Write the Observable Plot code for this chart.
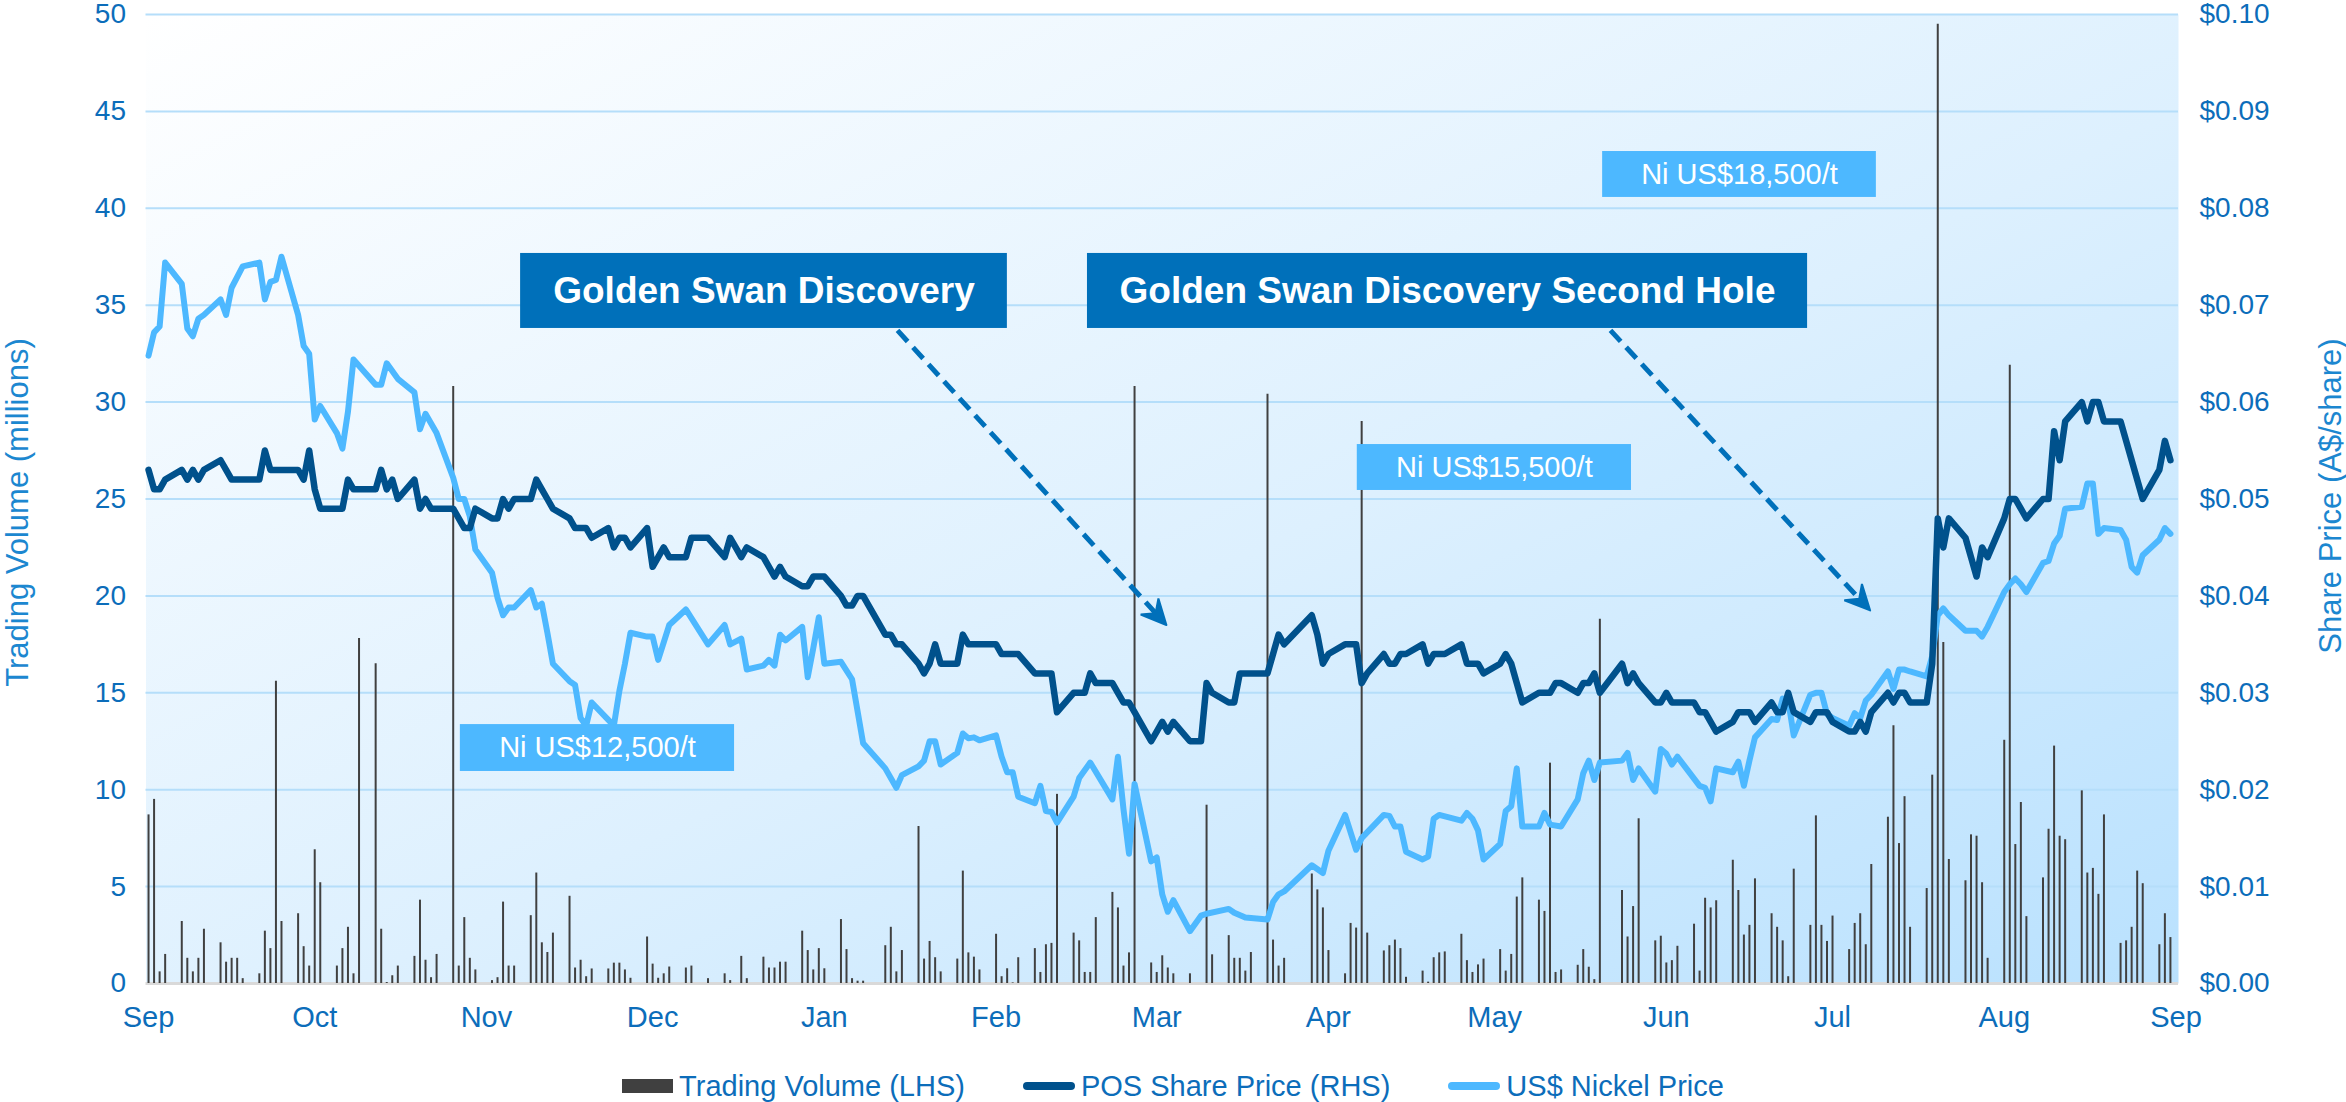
<!DOCTYPE html>
<html>
<head>
<meta charset="utf-8">
<script src="https://cdn.jsdelivr.net/npm/d3@7"></script>
<script src="https://cdn.jsdelivr.net/npm/@observablehq/plot@0.6"></script>
<style>
  html, body { margin: 0; padding: 0; background: #ffffff; }
  body { width: 2346px; height: 1102px; overflow: hidden; font-family: "Liberation Sans", Arial, sans-serif; }
  #chart svg { display: block; }
  #legend { display: flex; justify-content: center; align-items: center; height: 38px; padding-top: 3px;
            font-size: 29px; color: #0C6DBA; white-space: nowrap; }
  #legend .item { display: flex; align-items: center; margin: 0 29px; }
  #legend .sw { display: inline-block; margin-right: 6px; }
  #legend .sw.bar { width: 51px; height: 14px; }
  #legend .sw.line { width: 52px; height: 8px; border-radius: 4px; }
</style>
</head>
<body>
<div id="chart"></div>
<div id="legend"></div>
<script>
// ---------------- DATA ----------------
// Daily trading volume (millions of shares), per month: [day, volume]
const volume = [
  ["2019-09", [[3,8.7],[4,9.5],[5,0.6],[6,1.5],[9,3.2],[10,1.3],[11,0.6],[12,1.3],[13,2.8],[16,2.1],[17,1.1],[18,1.3],[19,1.3],[20,0.25],[23,0.5],[24,2.7],[25,1.8],[26,15.6],[27,3.2],[30,3.6]]],
  ["2019-10", [[1,1.9],[2,0.9],[3,6.9],[4,5.2],[7,0.9],[8,1.8],[9,2.9],[10,0.5],[11,17.8],[14,16.5],[15,2.8],[16,0.05],[17,0.4],[18,0.9],[21,1.4],[22,4.3],[23,1.2],[24,0.3],[25,1.5],[28,30.8],[29,0.9],[30,3.4],[31,1.3]]],
  ["2019-11", [[1,0.7],[4,0.15],[5,0.3],[6,4.2],[7,0.9],[8,0.9],[11,3.5],[12,5.7],[13,2.1],[14,1.6],[15,2.6],[18,4.5],[19,0.8],[20,1.2],[21,0.35],[22,0.75],[25,0.75],[26,1.05],[27,1.05],[28,0.7],[29,0.27]]],
  ["2019-12", [[2,2.4],[3,1.0],[4,0.27],[5,0.5],[6,0.85],[9,0.8],[10,0.9],[13,0.25],[16,0.5],[17,0.15],[19,1.4],[20,0.25],[23,1.36],[24,0.8],[25,0.8],[26,1.1],[27,1.1],[30,2.7],[31,1.7]]],
  ["2020-01", [[1,0.7],[2,1.8],[3,0.76],[6,3.3],[7,1.75],[8,0.25],[9,0.12],[10,0.12],[14,1.95],[15,2.9],[16,0.6],[17,1.7],[20,8.1],[21,1.26],[22,2.17],[23,1.33],[24,0.6],[27,1.26],[28,5.8],[29,1.58],[30,1.36],[31,0.7]]],
  ["2020-02", [[3,2.54],[4,0.35],[5,0.76],[6,0.03],[7,1.33],[10,1.8],[11,0.57],[12,2.0],[13,2.07],[14,9.76],[17,2.6],[18,2.2],[19,0.57],[20,0.57],[21,3.4],[24,4.7],[25,3.9],[26,0.9],[27,1.58],[28,30.8]]],
  ["2020-03", [[2,1.06],[3,0.57],[4,1.43],[5,0.8],[6,0.5],[9,0.5],[12,9.2],[13,1.48],[16,2.47],[17,1.3],[18,1.3],[19,0.64],[20,1.6],[23,30.4],[24,2.24],[25,0.9],[26,1.3],[31,5.65]]],
  ["2020-04", [[1,4.83],[2,3.9],[3,1.7],[6,0.5],[7,3.1],[8,2.86],[9,29.0],[10,2.6],[13,1.68],[14,1.95],[15,2.24],[16,1.8],[17,0.32],[20,0.64],[21,0.07],[22,1.33],[23,1.58],[24,1.63],[27,2.54],[28,1.18],[29,0.57],[30,0.96]]],
  ["2020-05", [[1,1.26],[4,1.75],[5,0.64],[6,1.5],[7,4.46],[8,5.45],[11,4.3],[12,3.72],[13,11.37],[14,0.57],[15,0.7],[18,0.94],[19,1.75],[20,0.84],[21,0.2],[22,18.8],[26,4.8],[27,2.4],[28,3.97],[29,8.5]]],
  ["2020-06", [[1,2.2],[2,2.44],[3,1.06],[4,1.18],[5,1.92],[8,3.06],[9,0.64],[10,4.4],[11,3.9],[12,4.27],[15,6.36],[16,4.8],[17,2.5],[18,3.0],[19,5.4],[22,3.6],[23,2.9],[24,2.2],[25,0.35],[26,5.9],[29,3.0],[30,8.65]]],
  ["2020-07", [[1,3.0],[2,2.17],[3,3.48],[6,1.75],[7,3.1],[8,3.6],[9,2.0],[10,6.14],[13,8.58],[14,13.3],[15,7.22],[16,9.64],[17,2.9],[20,4.9],[21,10.75],[22,49.5],[23,17.6],[24,6.4],[27,5.3],[28,7.67],[29,7.6],[30,5.2],[31,1.3]]],
  ["2020-08", [[3,12.55],[4,31.9],[5,7.17],[6,9.34],[7,3.45],[10,5.45],[11,7.96],[12,12.25],[13,7.6],[14,7.42],[17,9.94],[18,5.7],[19,5.94],[20,4.6],[21,8.7],[24,2.07],[25,2.2],[26,2.9],[27,5.8],[28,5.15],[31,2.0]]],
  ["2020-09", [[1,3.6],[2,2.37]]]
];

// POS share price (A$/share), per month: [day, price]
const sharePrice = [
  ["2019-09", [[3,.053],[4,.051],[5,.051],[6,.052],[9,.053],[10,.052],[11,.053],[12,.052],[13,.053],[16,.054],[17,.053],[18,.052],[23,.052],[24,.055],[25,.053],[30,.053]]],
  ["2019-10", [[1,.052],[2,.055],[3,.051],[4,.049],[8,.049],[9,.052],[10,.051],[14,.051],[15,.053],[16,.051],[17,.052],[18,.050],[21,.052],[22,.049],[23,.050],[24,.049],[28,.049],[29,.048],[30,.047],[31,.047]]],
  ["2019-11", [[1,.049],[4,.048],[5,.048],[6,.050],[7,.049],[8,.050],[11,.050],[12,.052],[13,.051],[14,.050],[15,.049],[18,.048],[19,.047],[21,.047],[22,.046],[25,.047],[26,.045],[27,.046],[28,.046],[29,.045]]],
  ["2019-12", [[2,.047],[3,.043],[4,.044],[5,.045],[6,.044],[9,.044],[10,.046],[13,.046],[16,.044],[17,.046],[18,.045],[19,.044],[20,.045],[23,.044],[24,.043],[25,.042],[26,.043],[27,.042],[30,.041],[31,.041]]],
  ["2020-01", [[1,.042],[2,.042],[3,.042],[6,.040],[7,.039],[8,.039],[9,.040],[10,.040],[14,.036],[15,.036],[16,.035],[17,.035],[20,.033],[21,.032],[22,.033],[23,.035],[24,.033],[27,.033],[28,.036],[29,.035],[31,.035]]],
  ["2020-02", [[3,.035],[4,.034],[7,.034],[10,.032],[13,.032],[14,.028],[17,.030],[19,.030],[20,.032],[21,.031],[24,.031],[25,.030],[26,.029],[27,.029],[28,.028]]],
  ["2020-03", [[2,.025],[3,.026],[4,.027],[5,.026],[6,.027],[9,.025],[10,.025],[11,.025],[12,.031],[13,.030],[16,.029],[17,.029],[18,.032],[19,.032],[20,.032],[23,.032],[24,.034],[25,.036],[26,.035],[31,.038]]],
  ["2020-04", [[1,.036],[2,.033],[3,.034],[6,.035],[7,.035],[8,.035],[9,.031],[10,.032],[13,.034],[14,.033],[15,.033],[16,.034],[17,.034],[20,.035],[21,.033],[22,.034],[23,.034],[24,.034],[27,.035],[28,.033],[29,.033],[30,.033]]],
  ["2020-05", [[1,.032],[4,.033],[5,.034],[6,.033],[7,.031],[8,.029],[11,.030],[12,.030],[13,.030],[14,.031],[15,.031],[18,.030],[19,.031],[20,.031],[21,.032],[22,.030],[26,.033],[27,.031],[28,.032],[29,.031]]],
  ["2020-06", [[1,.029],[2,.029],[3,.030],[4,.029],[5,.029],[8,.029],[9,.028],[10,.028],[11,.027],[12,.026],[15,.027],[16,.028],[17,.028],[18,.028],[19,.027],[22,.029],[23,.028],[24,.028],[25,.030],[26,.028],[29,.027],[30,.028]]],
  ["2020-07", [[1,.028],[2,.028],[3,.027],[6,.026],[7,.026],[8,.027],[9,.026],[10,.028],[13,.030],[14,.029],[15,.030],[16,.030],[17,.029],[20,.029],[21,.033],[22,.048],[23,.045],[24,.048],[27,.046],[28,.044],[29,.042],[30,.045],[31,.044]]],
  ["2020-08", [[3,.048],[4,.050],[5,.050],[6,.049],[7,.048],[10,.050],[11,.050],[12,.057],[13,.054],[14,.058],[17,.060],[18,.058],[19,.060],[20,.060],[21,.058],[24,.058],[28,.050],[31,.053]]],
  ["2020-09", [[1,.056],[2,.054]]]
];

// US$ nickel price, drawn on the chart's left-axis units (no own axis): [day, value]
const nickelPrice = [
  ["2019-09", [[3,32.4],[4,33.6],[5,33.9],[6,37.2],[9,36.1],[10,33.8],[11,33.4],[12,34.3],[13,34.5],[16,35.3],[17,34.5],[18,35.9],[20,37.0],[23,37.2],[24,35.3],[25,36.2],[26,36.3],[27,37.5],[30,34.5]]],
  ["2019-10", [[1,32.9],[2,32.5],[3,29.1],[4,29.8],[7,28.4],[8,27.6],[9,29.5],[10,32.2],[14,30.9],[15,30.9],[16,32.0],[18,31.2],[21,30.5],[22,28.6],[23,29.4],[25,28.4],[28,26.1],[29,25.0],[30,25.0],[31,24.1]]],
  ["2019-11", [[1,22.4],[4,21.2],[5,19.9],[6,19.0],[7,19.4],[8,19.4],[11,20.3],[12,19.4],[13,19.6],[14,18.1],[15,16.5],[18,15.6],[19,15.4],[20,13.7],[21,13.3],[22,14.5],[25,13.6],[26,13.3],[27,15.1],[28,16.5],[29,18.1]]],
  ["2019-12", [[2,17.9],[3,17.9],[4,16.7],[6,18.5],[9,19.3],[13,17.5],[16,18.5],[17,17.5],[19,17.8],[20,16.2],[23,16.4],[24,16.7],[25,16.4],[26,18.0],[27,17.7],[30,18.4],[31,15.8]]],
  ["2020-01", [[1,17.3],[2,18.9],[3,16.5],[6,16.6],[8,15.7],[10,12.4],[14,11.1],[16,10.1],[17,10.75],[20,11.2],[21,11.5],[22,12.5],[23,12.5],[24,11.3],[27,11.9],[28,12.9],[29,12.65],[30,12.7],[31,12.55]]],
  ["2020-02", [[3,12.8],[4,11.7],[5,10.9],[6,10.9],[7,9.64],[10,9.3],[11,10.2],[12,8.9],[13,8.85],[14,8.3],[17,9.64],[18,10.6],[20,11.4],[24,9.5],[25,11.7],[26,9.0],[27,6.7],[28,10.3]]],
  ["2020-03", [[2,6.3],[3,6.5],[4,4.6],[5,3.7],[6,4.3],[9,2.7],[11,3.5],[12,3.6],[16,3.85],[17,3.65],[19,3.4],[23,3.3],[24,4.2],[25,4.6],[26,4.75],[31,6.1]]],
  ["2020-04", [[2,5.7],[3,6.85],[6,8.7],[8,6.9],[9,7.5],[13,8.7],[14,8.65],[15,8.1],[16,8.1],[17,6.8],[20,6.4],[21,6.55],[22,8.5],[23,8.7],[27,8.4],[28,8.8],[29,8.5],[30,7.9]]],
  ["2020-05", [[1,6.4],[4,7.2],[5,8.9],[6,9.15],[7,11.1],[8,8.1],[11,8.1],[12,8.8],[13,8.2],[15,8.1],[18,9.5],[19,10.85],[20,11.5],[21,10.5],[22,11.4],[26,11.5],[27,11.9],[28,10.5],[29,11.1]]],
  ["2020-06", [[1,9.9],[2,12.1],[3,11.85],[4,11.3],[5,11.7],[9,10.2],[10,10.1],[11,9.4],[12,11.1],[15,10.9],[16,11.45],[17,10.2],[18,11.5],[19,12.7],[22,13.65],[23,13.6],[24,14.7],[25,14.6],[26,12.8],[29,14.9],[30,15.0]]],
  ["2020-07", [[1,15.0],[2,13.9],[3,13.7],[6,13.3],[7,13.95],[8,13.7],[9,14.6],[10,14.9],[13,16.1],[14,15.2],[15,16.2],[16,16.2],[17,16.1],[20,15.85],[21,16.9],[22,19.0],[23,19.35],[24,19.0],[27,18.2],[29,18.2],[30,17.9],[31,18.4]]],
  ["2020-08", [[3,20.2],[4,20.6],[5,20.9],[6,20.6],[7,20.2],[10,21.7],[11,21.8],[12,22.7],[13,23.1],[14,24.5],[17,24.6],[18,25.8],[19,25.8],[20,23.2],[21,23.5],[24,23.4],[25,22.9],[26,21.5],[27,21.2],[28,22.1],[31,22.9]]],
  ["2020-09", [[1,23.5],[2,23.2]]]
];

// x-axis month ticks (axis runs from first to last trading date, ticks on the 3rd)
const monthTicks = ["2019-09-03","2019-10-03","2019-11-03","2019-12-03","2020-01-03","2020-02-03","2020-03-03",
                    "2020-04-03","2020-05-03","2020-06-03","2020-07-03","2020-08-03","2020-09-03"];
const leftTicks = [0, 5, 10, 15, 20, 25, 30, 35, 40, 45, 50];
const legendItems = [
  {label: "Trading Volume (LHS)", kind: "bar", color: "#404040"},
  {label: "POS Share Price (RHS)", kind: "line", color: "#00518C"},
  {label: "US$ Nickel Price", kind: "line", color: "#4DB8FF"}
];
// Annotation boxes and arrows (anchored in chart coordinates)
const annotationBoxes = [
  {text: "Golden Swan Discovery", kind: "event", x1: "2019-11-09T04:00Z", x2: "2020-02-05T01:00Z", y1: 33.8, y2: 37.67},
  {text: "Golden Swan Discovery Second Hole", kind: "event", x1: "2020-02-19T12:00Z", x2: "2020-06-28T12:00Z", y1: 33.8, y2: 37.67},
  {text: "Ni US$12,500/t", kind: "nickel", x1: "2019-10-29T07:00Z", x2: "2019-12-17T19:00Z", y1: 10.94, y2: 13.36},
  {text: "Ni US$15,500/t", kind: "nickel", x1: "2020-04-08T05:00Z", x2: "2020-05-27T17:00Z", y1: 25.44, y2: 27.81},
  {text: "Ni US$18,500/t", kind: "nickel", x1: "2020-05-22T12:00Z", x2: "2020-07-10T22:00Z", y1: 40.56, y2: 42.93}
];
const annotationArrows = [
  {x1: "2020-01-16T05:00Z", y1: 33.7, x2: "2020-03-04T18:00Z", y2: 18.5},
  {x1: "2020-05-23T22:00Z", y1: 33.7, x2: "2020-07-09T19:00Z", y2: 19.25}
];

// ---------------- BUILD ----------------
const C = {
  bar: "#404040", price: "#00518C", nickel: "#4DB8FF", event: "#0070BA",
  grid: "#B5DEFA", base: "#D9D9D9", tick: "#0C6DBA", title: "#1C87D0"
};
const parseDay = (ym, d) => new Date(`${ym}-${String(d).padStart(2, "0")}T00:00:00Z`);
const flatten = (table) => table.flatMap(([ym, rows]) => rows.map(([d, v]) => ({date: parseDay(ym, d), value: v})));
const volData = flatten(volume);
const priceData = flatten(sharePrice);
const nickelData = flatten(nickelPrice);
const PRICE_TO_LEFT = 500; // $0.10 on the right axis = 50 on the left axis

const boxes = annotationBoxes.map(b => ({...b, x1: new Date(b.x1), x2: new Date(b.x2)}))
  .map(b => ({...b, xm: new Date((+b.x1 + +b.x2) / 2), ym: (b.y1 + b.y2) / 2}));
const arrows = annotationArrows.map(a => ({...a, x1: new Date(a.x1), x2: new Date(a.x2)}));

const W = 2346, H = 1064;
const M = {top: 14, right: 168, bottom: 81, left: 145.5};
const xDomain = [new Date("2019-09-02T13:00:00Z"), new Date("2020-09-03T11:00:00Z")];
const plotW = W - M.left - M.right, plotH = H - M.top - M.bottom;
const span = xDomain[1] - xDomain[0];
const px = d => M.left + (d - xDomain[0]) / span * plotW;
const py = v => M.top + (50 - v) / 50 * plotH;
const invX = X => new Date(+xDomain[0] + (X - M.left) / plotW * span);
const invY = Y => 50 - (Y - M.top) / plotH * 50;

// dashed shaft + filled arrowhead, geometry worked out in screen space
const HEAD = {len: 25, half: 12, notch: 16};
const arrowMarks = arrows.flatMap(a => {
  const X1 = px(a.x1), Y1 = py(a.y1), X2 = px(a.x2), Y2 = py(a.y2);
  const L = Math.hypot(X2 - X1, Y2 - Y1), ux = (X2 - X1) / L, uy = (Y2 - Y1) / L, nx = -uy, ny = ux;
  const shaftEnd = {x: invX(X2 - HEAD.notch * ux), y: invY(Y2 - HEAD.notch * uy)};
  const head = [
    [X2, Y2],
    [X2 - HEAD.len * ux + HEAD.half * nx, Y2 - HEAD.len * uy + HEAD.half * ny],
    [X2 - HEAD.notch * ux, Y2 - HEAD.notch * uy],
    [X2 - HEAD.len * ux - HEAD.half * nx, Y2 - HEAD.len * uy - HEAD.half * ny],
    [X2, Y2]
  ].map(([X, Y]) => ({x: invX(X), y: invY(Y)}));
  return [
    Plot.link([{x1: a.x1, y1: a.y1, x2: shaftEnd.x, y2: shaftEnd.y}],
              {x1: "x1", y1: "y1", x2: "x2", y2: "y2", stroke: C.event, strokeWidth: 5,
               strokeDasharray: "15,8", strokeLinecap: "butt"}),
    Plot.line(head, {x: "x", y: "y", fill: C.event, stroke: C.event, strokeWidth: 2, strokeLinejoin: "miter"})
  ];
});

const font = '"Liberation Sans", Arial, sans-serif';
const chart = Plot.plot({
  width: W, height: H,
  marginTop: M.top, marginRight: M.right, marginBottom: M.bottom, marginLeft: M.left,
  style: {fontFamily: font, background: "transparent", overflow: "visible"},
  x: {type: "utc", domain: xDomain, axis: null},
  y: {domain: [0, 50], axis: null},
  marks: [
    Plot.frame({fill: "url(#plotBg)", stroke: "none"}),
    Plot.gridY(leftTicks.filter(d => d > 0), {stroke: C.grid, strokeWidth: 2, strokeOpacity: 1}),
    Plot.ruleY([0], {stroke: C.base, strokeWidth: 3}),
    Plot.ruleX(volData, {x: "date", y1: 0, y2: "value", stroke: C.bar, strokeWidth: 2}),
    Plot.line(nickelData, {x: "date", y: "value", stroke: C.nickel, strokeWidth: 6, strokeLinejoin: "round"}),
    Plot.line(priceData, {x: "date", y: d => d.value * PRICE_TO_LEFT, stroke: C.price, strokeWidth: 6.5, strokeLinejoin: "round"}),
    Plot.rect(boxes.filter(d => d.kind === "nickel"), {x1: "x1", x2: "x2", y1: "y1", y2: "y2", fill: C.nickel}),
    Plot.text(boxes.filter(d => d.kind === "nickel"), {x: "xm", y: "ym", text: "text", fill: "white", fontSize: 29}),
    Plot.rect(boxes.filter(d => d.kind === "event"), {x1: "x1", x2: "x2", y1: "y1", y2: "y2", fill: C.event}),
    Plot.text(boxes.filter(d => d.kind === "event"), {x: "xm", y: "ym", text: "text", fill: "white", fontSize: 37, fontWeight: "bold"}),
    ...arrowMarks,
    Plot.axisY({anchor: "left", ticks: leftTicks, tickSize: 0, tickPadding: 20, fontSize: 28, fill: C.tick, label: null}),
    Plot.axisY({anchor: "right", ticks: leftTicks, tickSize: 0, tickPadding: 21, fontSize: 28, fill: C.tick, label: null,
                tickFormat: d => "$" + (d / PRICE_TO_LEFT).toFixed(2)}),
    Plot.axisX({ticks: monthTicks.map(d => new Date(d + "T00:00:00Z")), tickFormat: d3.utcFormat("%b"),
                tickSize: 0, tickPadding: 23, fontSize: 29, fill: C.tick, label: null}),
    Plot.text(["Trading Volume (millions)"], {frameAnchor: "left", textAnchor: "middle", dx: -127.5, dy: 13.5, rotate: -90,
                text: d => d, fontSize: 31, fill: C.title}),
    Plot.text(["Share Price (A$/share)"], {frameAnchor: "right", textAnchor: "middle", dx: 153, dy: -3, rotate: -90,
                text: d => d, fontSize: 31, fill: C.title})
  ]
});

// background gradient for the plot area
const svg = d3.select(chart);
const grad = svg.insert("defs", ":first-child").append("linearGradient")
  .attr("id", "plotBg").attr("x1", 0).attr("y1", 0).attr("x2", 1).attr("y2", 1);
grad.append("stop").attr("offset", "0%").attr("stop-color", "#FFFFFF");
grad.append("stop").attr("offset", "55%").attr("stop-color", "#DDF0FE");
grad.append("stop").attr("offset", "100%").attr("stop-color", "#B9E1FE");

document.getElementById("chart").appendChild(chart);

// legend (HTML, below the SVG)
const legend = d3.select("#legend");
for (const item of legendItems) {
  const el = legend.append("div").attr("class", "item");
  el.append("span").attr("class", `sw ${item.kind}`).style("background", item.color);
  el.append("span").text(item.label);
}
</script>
</body>
</html>
